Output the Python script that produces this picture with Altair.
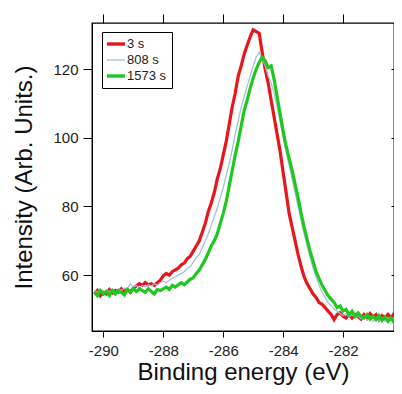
import altair as alt
import pandas as pd

# binding energy grid (eV), step 0.1 from -290.3 to -280.2
energy = [round(-290.3 + 0.1 * i, 1) for i in range(102)]

red_3s = [
    54.5, 55.5, 54.0, 55.0, 54.5, 55.8, 54.8, 55.5, 55.0, 56.0,
    55.2, 55.8, 55.0, 56.2, 56.8, 57.5, 57.0, 57.8, 57.2, 57.5,
    57.0, 57.8, 58.5, 59.8, 60.5, 60.0, 61.0, 61.5, 62.0, 63.0,
    63.5, 64.8, 65.5, 67.0, 68.5, 70.0, 72.5, 75.0, 78.5, 81.0,
    84.0, 88.0, 91.0, 95.0, 99.0, 104.0, 109.0, 113.0, 118.0, 121.0,
    124.5, 127.0, 129.5, 131.5, 131.0, 130.5, 125.0, 120.0, 116.0, 111.0,
    106.0, 101.0, 96.0, 90.0, 84.0, 78.0, 74.0, 70.0, 66.0, 62.5,
    59.5, 57.5, 56.0, 54.5, 53.5, 52.0, 51.5, 50.5, 49.5, 48.5,
    47.0, 48.5, 49.0, 48.0, 47.5, 48.5, 47.5, 48.5, 48.0, 47.2,
    48.5, 47.5, 48.8, 47.8, 48.5, 47.0, 48.2, 47.5, 48.5, 47.5,
    48.8, 49.5,
]

blue_808s = [
    55.5, 55.0, 55.8, 55.0, 55.5, 55.2, 55.8, 55.0, 56.0, 55.5,
    56.2, 56.0, 57.5, 56.5, 57.0, 56.2, 57.0, 56.5, 57.2, 56.8,
    57.5, 57.0, 57.8, 58.2, 57.8, 58.5, 59.0, 59.5, 60.0, 60.5,
    61.0, 62.0, 62.5, 63.8, 65.0, 66.0, 68.0, 70.0, 72.0, 74.5,
    77.0, 79.5, 82.5, 85.5, 89.0, 92.5, 96.5, 101.0, 105.0, 109.0,
    112.0, 115.0, 118.0, 121.0, 123.5, 125.0, 123.0, 121.0, 118.0, 116.0,
    113.0, 109.0, 104.5, 100.0, 96.0, 92.0, 88.0, 84.0, 80.0, 76.0,
    72.0, 68.5, 65.0, 62.0, 59.5, 57.0, 55.0, 53.5, 52.0, 51.0,
    50.0, 49.5, 48.8, 48.2, 48.8, 47.8, 48.5, 47.5, 48.2, 47.2,
    48.0, 46.8, 47.8, 46.5, 47.5, 46.8, 47.5, 46.5, 47.2, 46.8,
    47.5, 47.0,
]

green_1573s = [
    55.0, 54.0, 55.5, 54.5, 55.2, 54.0, 55.5, 54.5, 55.5, 55.0,
    54.2, 55.8, 55.0, 56.0, 55.2, 56.0, 55.5, 55.0, 56.0, 55.2,
    54.5, 55.8, 55.5, 56.0, 56.5, 55.8, 57.0, 56.5, 57.2, 57.8,
    57.2, 58.0, 58.8, 59.2, 60.5, 61.5, 63.0, 64.5, 66.5, 68.5,
    70.0, 72.0, 75.0, 78.0, 81.5, 86.0, 90.5, 95.0, 99.0, 103.5,
    108.0, 111.0, 114.5, 117.5, 120.0, 122.0, 123.5, 122.5, 120.5, 121.0,
    117.0, 112.0, 107.0, 102.0, 97.5, 94.0, 90.5, 86.5, 82.5, 78.0,
    74.0, 70.5, 67.0, 64.0, 61.0, 59.0, 57.0, 55.5, 54.0, 53.0,
    52.0, 50.5, 51.0, 49.5, 50.0, 48.5, 49.5, 48.0, 49.0, 48.0,
    47.5, 48.5, 47.2, 48.0, 47.0, 48.2, 46.8, 47.8, 46.5, 47.5,
    46.2, 47.5,
]

series_names = ["3 s", "808 s", "1573 s"]
series_colors = ["#e8161c", "#a3bcd8", "#1ec81e"]
series_widths = [3.2, 1.2, 3.2]

x_ticks = [-290, -288, -286, -284, -282]
y_ticks = [60, 80, 100, 120]
x_domain = [-290.38, -280.3]
y_domain = [43.7, 133.5]

frames = []
for name, vals in zip(series_names, [red_3s, blue_808s, green_1573s]):
    frames.append(pd.DataFrame({"energy": energy, "intensity": vals, "series": name}))
df = pd.concat(frames, ignore_index=True)

FONT = "Liberation Sans"

x_scale = alt.Scale(domain=x_domain, nice=False, zero=False)
y_scale = alt.Scale(domain=y_domain, nice=False, zero=False)

x_enc = alt.X(
    "energy:Q", scale=x_scale,
    axis=alt.Axis(
        values=x_ticks, title="Binding energy (eV)", grid=False,
        labelExpr="datum.value < 0 ? '-' + abs(datum.value) : '' + datum.value",
        tickSize=6, labelPadding=6, labelFontSize=15, titleFontSize=24,
        titleFontWeight="normal", titlePadding=2, labelFont=FONT, titleFont=FONT,
        labelColor="#222", titleColor="#111", domainColor="black", tickColor="black",
        labelFlush=False,
    ),
)
y_enc = alt.Y(
    "intensity:Q", scale=y_scale,
    axis=alt.Axis(
        values=y_ticks, title="Intensity (Arb. Units.)", grid=False,
        tickSize=9, labelPadding=5, labelFontSize=15, titleFontSize=24,
        titleFontWeight="normal", titlePadding=16, labelFont=FONT, titleFont=FONT,
        labelColor="#222", titleColor="#111", domainColor="black", tickColor="black",
        labelFlush=False,
    ),
)

color_enc = alt.Color(
    "series:N",
    scale=alt.Scale(domain=series_names, range=series_colors),
    legend=alt.Legend(
        title=None, orient="none", legendX=10, legendY=9,
        symbolType="stroke", symbolSize=529,
        symbolStrokeWidth=alt.ExprRef("datum.value == '808 s' ? 1.2 : 3.4"),
        clipHeight=14, rowPadding=2,
        labelFontSize=13, labelFont=FONT, labelColor="#222",
        fillColor="white", strokeColor="black", padding=5, labelOffset=7,
    ),
)

line_layers = []
for name, w in zip(series_names, series_widths):
    line_layers.append(
        alt.Chart(df)
        .transform_filter(alt.datum.series == name)
        .mark_line(interpolate="linear", clip=True, strokeWidth=w)
        .encode(x=x_enc, y=y_enc, color=color_enc)
    )
lines = alt.layer(*line_layers)

# top axis ticks (outward) and right axis ticks (inward)
top_axis = alt.Chart(pd.DataFrame({"energy": x_ticks})).mark_point(opacity=0).encode(
    x=alt.X("energy:Q", scale=x_scale,
            axis=alt.Axis(orient="top", values=x_ticks, labels=False, title=None,
                          tickSize=9, domain=False, grid=False, tickColor="black"))
)
right_axis = alt.Chart(pd.DataFrame({"intensity": y_ticks})).mark_point(opacity=0).encode(
    y=alt.Y("intensity:Q", scale=y_scale,
            axis=alt.Axis(orient="right", values=y_ticks, labels=False, title=None,
                          tickSize=3, offset=-3, domain=False, grid=False, tickColor="black"))
)

chart = (
    alt.layer(lines, top_axis, right_axis)
    .resolve_scale(x="shared", y="shared")
    .resolve_axis(x="independent", y="independent")
    .properties(
        width=302, height=308,
        autosize=alt.AutoSizeParams(type="none"),
        padding={"left": 84, "top": 15, "right": 0, "bottom": 55},
        background="white",
    )
    .configure_view(stroke="black", strokeWidth=1.3)
)

chart.save("out.html", embed_options={"renderer": "svg", "actions": False})
